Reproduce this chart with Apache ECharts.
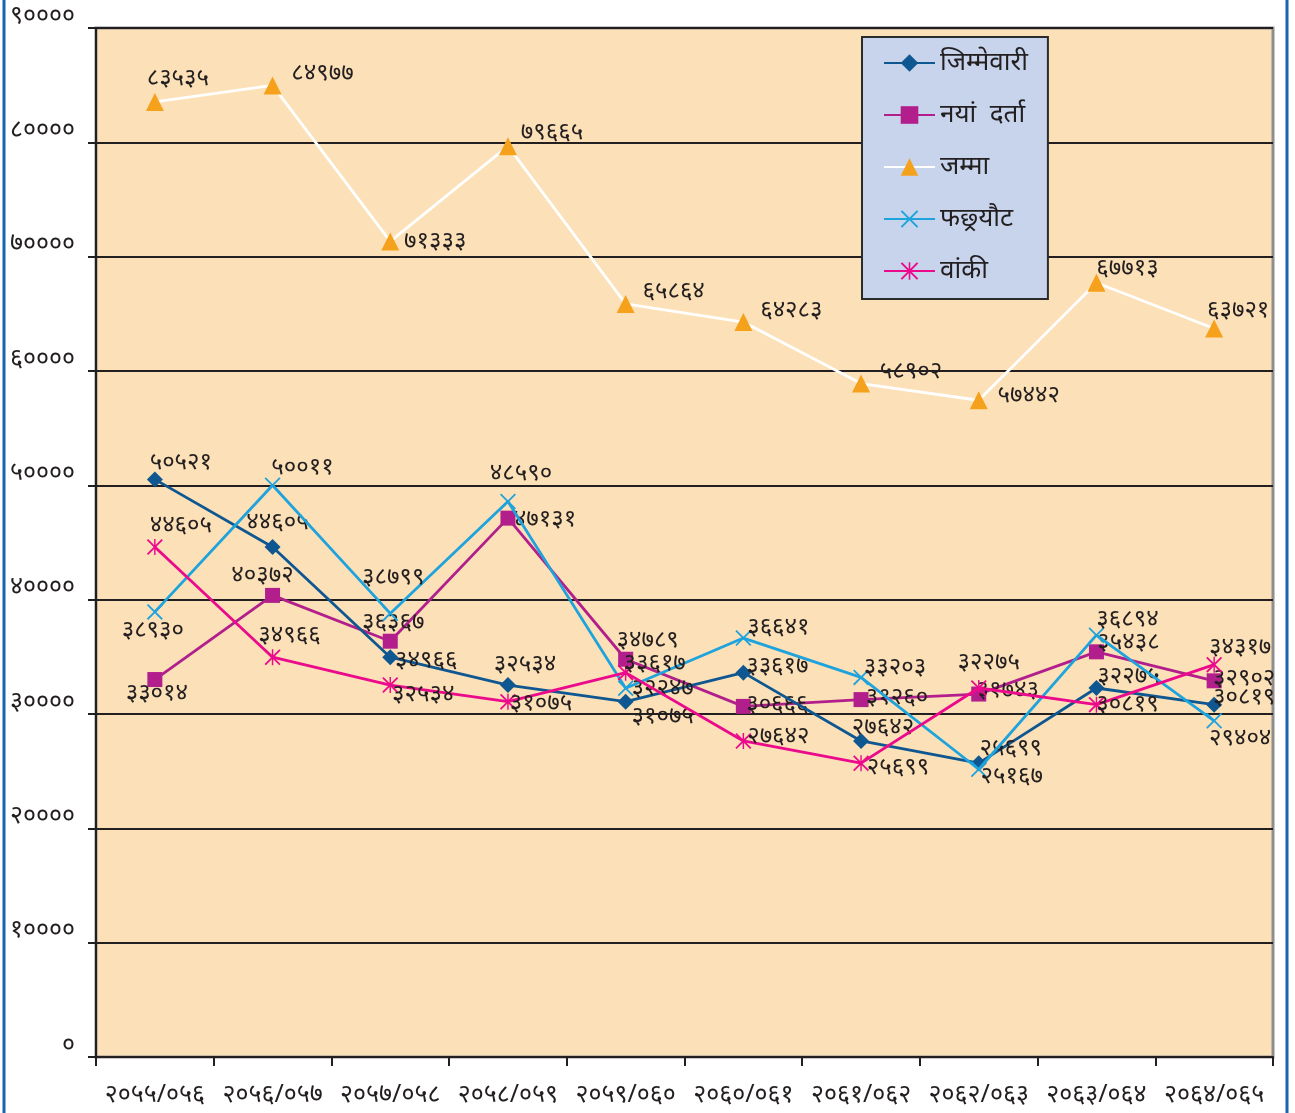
<!DOCTYPE html>
<html><head><meta charset="utf-8">
<script src="https://cdn.jsdelivr.net/npm/echarts@6/dist/echarts.min.js"></script>
<style>html,body{margin:0;padding:0;background:#fff}#c{width:1295px;height:1113px}</style>
</head><body><div id="c"></div>
<script>
// ---- data ----
const categories = ['२०५५/०५६','२०५६/०५७','२०५७/०५८','२०५८/०५९','२०५९/०६०','२०६०/०६१','२०६१/०६२','२०६२/०६३','२०६३/०६४','२०६४/०६५'];
const seriesNames = ['जिम्मेवारी','नयां  दर्ता','जम्मा','फछ्र्यौट','वांकी'];
const jimmewari = [50521,44605,34966,32534,31075,33617,27642,25699,32275,30819];
const nayaDarta = [33014,40372,36367,47131,34789,30666,31260,31743,35438,32902];
const jamma     = [83535,84977,71333,79665,65864,64283,58902,57442,67713,63721];
const fachhyaut = [38930,50011,38799,48590,32247,36641,33203,25167,36894,29404];
const baaki     = [44605,34966,32534,31075,33617,27642,25699,32275,30819,34317];
const yTickLabels = ['०','१००००','२००००','३००००','४००००','५००००','६००००','७००००','८००००','९००००'];

// ---- label placement (style, px offsets from point) ----
const offJim = [[26,-17],[5,-25],[36,3],[17,-21],[37,14],[34,-6],[22,-14],[32,-15],[32,-12],[30,-7]];
const offNaya = [[2,14],[-10,-20],[3,-19],[37,1],[22,-19],[34,-2],[36,-2],[29,-4],[32,-10],[30,-3]];
const offJam = [[23,-24],[50,-12],[45,0],[44,-14],[48,-13],[48,-12],[50,-12],[50,-5],[31,-15],[24,-18]];
const offFach = [[-2,18],[30,-18],[3,-36],[13,-28],[37,0],[35,-11],[34,-10],[33,7],[31,-16],[26,17]];
const offBaaki = [[26,-22],[17,-22],[33,9],[33,1],[29,-9],[35,-5],[37,4],[10,-26],[31,0],[26,-17]];

const dev = '०१२३४५६७८९';
function toDev(n){ return String(n).replace(/[0-9]/g, d => dev[+d]); }

const FONT = "'Noto Sans', 'Noto Sans Devanagari', sans-serif";

function build(vals, offs){
  return vals.map((v,i)=>({value:v, label:{offset:offs[i]}}));
}

const xPath = 'path://M0,1.6 L1.6,0 L20,18.4 L18.4,20 Z M18.4,0 L20,1.6 L1.6,20 L0,18.4 Z';
const astPath = 'path://M0,1.6 L1.6,0 L20,18.4 L18.4,20 Z M18.4,0 L20,1.6 L1.6,20 L0,18.4 Z M9.1,0 L10.9,0 L10.9,20 L9.1,20 Z';

const lbl = {show:true, position:'inside', color:'#231f20', fontSize:24, fontFamily:FONT,
  formatter: p => toDev(p.value)};

function mk(name, vals, offs, color, lineColor, symbol, size, z){
  return {
    name, type:'line', data: build(vals, offs), symbol, symbolSize:size,
    itemStyle:{color}, lineStyle:{color:lineColor, width:2.8},
    label: lbl, z, animation:false,
    emphasis:{disabled:true}
  };
}

const chart = echarts.init(document.getElementById('c'));
chart.setOption({
  backgroundColor:'#ffffff',
  animation:false,
  grid:{left:96, right:22, top:28, bottom:56, show:true, backgroundColor:'#fce0b7', borderColor:'#8e8e8e', borderWidth:3},
  legend:{
    orient:'vertical', left:862, top:37, padding:[12,20,14,21],
    backgroundColor:'#c7d4ec', borderColor:'#2b2b2b', borderWidth:2,
    itemWidth:51, itemHeight:22, itemGap:24,
    textStyle:{fontSize:26, color:'#231f20', fontFamily:FONT, lineHeight:28},
    selectedMode:false,
    data: seriesNames
  },
  xAxis:{
    type:'category', data:categories, boundaryGap:true,
    axisLine:{lineStyle:{color:'#231f20', width:2}},
    axisTick:{show:true, length:9, interval:0, lineStyle:{color:'#231f20', width:2}},
    axisLabel:{interval:0, margin:25, fontSize:25, color:'#231f20', fontFamily:FONT}
  },
  yAxis:{
    type:'value', min:0, max:90000, interval:10000,
    axisLine:{show:true, lineStyle:{color:'#231f20', width:2}},
    axisTick:{show:true, length:8, lineStyle:{color:'#231f20', width:2}},
    splitLine:{show:true, lineStyle:{color:'#231f20', width:2}},
    axisLabel:{margin:21, fontSize:25, color:'#231f20', fontFamily:FONT, verticalAlign:'bottom',
      formatter: v => yTickLabels[Math.round(v/10000)]}
  },
  graphic:[
    {type:'line', shape:{x1:4, y1:0, x2:4, y2:1113}, style:{stroke:'#1c63b1', lineWidth:3}, z:100},
    {type:'line', shape:{x1:1287, y1:0, x2:1287, y2:1113}, style:{stroke:'#1c63b1', lineWidth:3}, z:100}
  ],
  series:[
    mk(seriesNames[0], jimmewari, offJim, '#0f5791', '#0f5791', 'diamond', 16, 5),
    mk(seriesNames[1], nayaDarta, offNaya, '#b21f8c', '#b21f8c', 'rect', 15, 4),
    mk(seriesNames[2], jamma, offJam, '#f6a11c', '#ffffff', 'triangle', 18, 3),
    mk(seriesNames[3], fachhyaut, offFach, '#1ea3dd', '#1ea3dd', xPath, 16, 6),
    mk(seriesNames[4], baaki, offBaaki, '#ec0a8c', '#ec0a8c', astPath, 16, 7)
  ]
});
</script></body></html>
